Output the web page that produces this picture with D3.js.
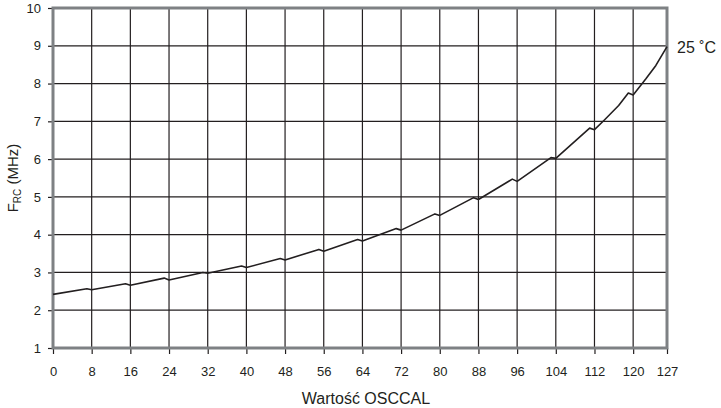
<!DOCTYPE html>
<html>
<head>
<meta charset="utf-8">
<script src="https://cdn.jsdelivr.net/npm/d3@7"></script>
<style>
  html, body { margin: 0; padding: 0; background: #fff; }
  svg { display: block; font-family: Arial, "Liberation Sans", sans-serif; }
</style>
</head>
<body>
<svg id="chart" width="721" height="408"></svg>
<script>
// ---- data ----
const oscCal = [0, 7, 8, 15, 16, 23, 24, 31, 32, 39, 40, 47, 48, 55, 56, 63, 64, 71, 72,
                79, 80, 87, 88, 95, 96, 103, 104, 111, 112, 114, 117, 119, 120, 122.6, 124.7, 127];
const freqMHz = [2.42, 2.57, 2.54, 2.70, 2.66, 2.85, 2.80, 3.00, 2.98, 3.17, 3.13, 3.37, 3.33, 3.61, 3.56, 3.87, 3.83, 4.16, 4.12,
                 4.55, 4.51, 4.98, 4.93, 5.47, 5.41, 6.04, 6.02, 6.82, 6.78, 7.03, 7.42, 7.75, 7.70, 8.12, 8.48, 8.98];
const xTicks = [0, 8, 16, 24, 32, 40, 48, 56, 64, 72, 80, 88, 96, 104, 112, 120, 127];
const yTicks = [1, 2, 3, 4, 5, 6, 7, 8, 9, 10];
const seriesLabel = "25 \u02DAC";
const xTitle = "Wartość OSCCAL";

// ---- layout ----
(function () {
const svg = d3.select("#chart");
const mLeft = 53, mRight = 667, mTop = 8, mBottom = 348;
const x = d3.scaleLinear().domain([0, 127]).range([mLeft, mRight]);
const y = d3.scaleLinear().domain([1, 10]).range([mBottom, mTop]);
const ink = "#231f20";

// gridlines
const grid = svg.append("g");
grid.selectAll("line.v").data(xTicks).join("line").attr("class", "v")
  .attr("x1", d => x(d)).attr("x2", d => x(d))
  .attr("y1", mTop).attr("y2", mBottom)
  .attr("stroke", ink).attr("stroke-width", 1.2);
grid.selectAll("line.h").data(yTicks).join("line").attr("class", "h")
  .attr("x1", mLeft).attr("x2", mRight)
  .attr("y1", d => y(d)).attr("y2", d => y(d))
  .attr("stroke", ink).attr("stroke-width", 1.2);

// axes
const xAxis = d3.axisBottom(x).tickValues(xTicks).tickFormat(d3.format("d")).tickSize(6).tickPadding(13);
const yAxis = d3.axisLeft(y).tickValues(yTicks).tickFormat(d3.format("d")).tickSize(5).tickPadding(7);
const gx = svg.append("g").attr("transform", `translate(0,${mBottom})`).call(xAxis);
const gy = svg.append("g").attr("transform", `translate(${mLeft},0)`).call(yAxis);
[gx, gy].forEach(g => {
  g.select(".domain").remove();
  g.selectAll(".tick line").attr("stroke", ink).attr("stroke-width", 1.2);
  g.selectAll(".tick text").attr("fill", ink).attr("font-size", 13)
    .attr("font-family", "Arial, 'Liberation Sans', sans-serif");
});

// frame
svg.append("rect")
  .attr("x", mLeft).attr("y", mTop).attr("width", mRight - mLeft).attr("height", mBottom - mTop)
  .attr("fill", "none").attr("stroke", "#7e8184").attr("stroke-width", 3);

// curve
const line = d3.line().x((d, i) => x(oscCal[i])).y(d => y(d));
svg.append("path").datum(freqMHz)
  .attr("d", line).attr("fill", "none").attr("stroke", ink)
  .attr("stroke-width", 1.6).attr("stroke-linejoin", "round");

// series label
svg.append("text").attr("x", 677).attr("y", 53).attr("fill", ink)
  .attr("font-size", 16).text(seriesLabel);

// x title
svg.append("text").attr("x", 366).attr("y", 404).attr("text-anchor", "middle")
  .attr("fill", ink).attr("font-size", 16).text(xTitle);

// y title
const yt = svg.append("text").attr("transform", "translate(18,178) rotate(-90)")
  .attr("text-anchor", "middle").attr("fill", ink).attr("font-size", 15);
yt.append("tspan").text("F");
yt.append("tspan").attr("font-size", 10).attr("dy", 3).text("RC");
yt.append("tspan").attr("dy", -3).text(" (MHz)");
})();
</script>
</body>
</html>
